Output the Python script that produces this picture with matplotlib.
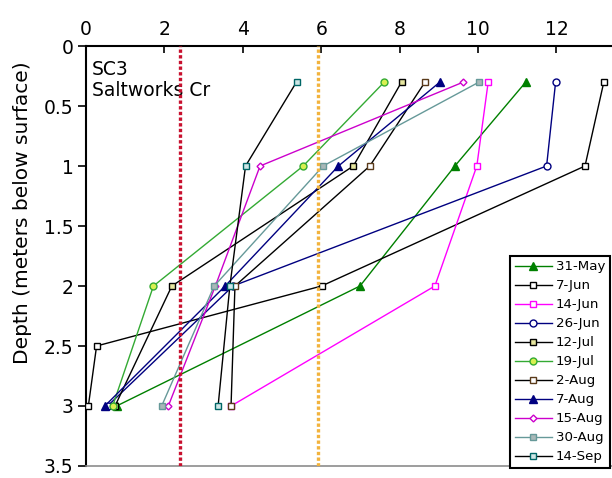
import matplotlib
matplotlib.use("Agg")
import matplotlib.pyplot as plt

plt.rcParams["font.family"] = ["DejaVu Sans"]

# Profiles at SC3 (Saltworks Cr): measured value vs depth below surface
depth_4 = [0.3, 1.0, 2.0, 3.0]
depth_5 = [0.3, 1.0, 2.0, 2.5, 3.0]

may31 = [11.22, 9.41, 6.99, 0.78]
jun07 = [13.21, 12.73, 6.01, 0.27, 0.06]
jun14 = [10.26, 9.97, 8.90, 3.70]
jun26 = [11.98, 11.75, 3.75, 0.55]
jul12 = [8.05, 6.82, 2.19, 0.74]
jul19 = [7.61, 5.54, 1.72, 0.68]
aug02 = [8.65, 7.24, 3.80, 3.70]
aug07 = [9.03, 6.44, 3.55, 0.48]
aug15 = [9.63, 4.44, 3.30, 2.10]
aug30 = [10.03, 6.05, 3.27, 1.93]
sep14 = [5.37, 4.07, 3.67, 3.37]

labels = ["31-May", "7-Jun", "14-Jun", "26-Jun", "12-Jul", "19-Jul",
          "2-Aug", "7-Aug", "15-Aug", "30-Aug", "14-Sep"]

# reference levels drawn as dotted verticals
red_level = 2.39
orange_level = 5.93

x_ticks = [0, 2, 4, 6, 8, 10, 12]
y_ticks = [0, 0.5, 1, 1.5, 2, 2.5, 3, 3.5]
y_tick_labels = ["0", "0.5", "1", "1.5", "2", "2.5", "3", "3.5"]

series = [
    (may31, depth_4, dict(color="#008000", marker="^", mfc="#008000", mec="#008000", ms=5.5)),
    (jun07, depth_5, dict(color="#000000", marker="s", mfc="white", mec="#000000", ms=5)),
    (jun14, depth_4, dict(color="#FF00FF", marker="s", mfc="white", mec="#FF00FF", ms=5)),
    (jun26, depth_4, dict(color="#000080", marker="o", mfc="white", mec="#000080", ms=5)),
    (jul12, depth_4, dict(color="#000000", marker="s", mfc="#E6E6A0", mec="#000000", ms=5)),
    (jul19, depth_4, dict(color="#33AA33", marker="o", mfc="#D8F050", mec="#33AA33", ms=5)),
    (aug02, depth_4, dict(color="#000000", marker="s", mfc="white", mec="#5A3A1A", ms=5)),
    (aug07, depth_4, dict(color="#000080", marker="^", mfc="#000080", mec="#000080", ms=5.5)),
    (aug15, depth_4, dict(color="#CC00CC", marker="D", mfc="white", mec="#CC00CC", ms=3.5)),
    (aug30, depth_4, dict(color="#669999", marker="s", mfc="#A8B8B8", mec="#669999", ms=5)),
    (sep14, depth_4, dict(color="#000000", marker="s", mfc="#CFE6E6", mec="#006666", ms=5)),
]

W, H = 612, 478
fig = plt.figure(figsize=(W / 100, H / 100), dpi=100)
left, right, top, bottom = 86, 612, 46, 466
ax = fig.add_axes([left / W, 1 - bottom / H, (right - left) / W, (bottom - top) / H])

for (vals, dep, st), lab in zip(series, labels):
    ax.plot(vals, dep, lw=1.0, mew=1.0, label=lab, zorder=3, **st)

ax.axvline(red_level, color="#C8102E", lw=2.4, ls=(0, (1, 0.7)), zorder=4)
ax.axvline(orange_level, color="#F2B33D", lw=2.4, ls=(0, (1, 0.7)), zorder=4)

ax.set_xlim(0, (right - left) / 39.2)
ax.set_ylim(3.5, 0)
ax.xaxis.tick_top()
ax.set_xticks(x_ticks)
ax.set_yticks(y_ticks)
ax.set_yticklabels(y_tick_labels)
ax.tick_params(axis="x", direction="in", length=5, width=1.2, pad=5, labelsize=13.5, top=True, bottom=False)
ax.tick_params(axis="y", direction="out", length=6, width=1.2, pad=3, labelsize=13.5)

ax.spines["right"].set_visible(False)
ax.spines["top"].set_linewidth(1.5)
ax.spines["left"].set_linewidth(1.5)
ax.spines["bottom"].set_color("#8C8C8C")
ax.spines["bottom"].set_linewidth(1.2)

ax.set_ylabel("Depth (meters below surface)", fontsize=14.5)
ax.yaxis.set_label_coords(-0.103, 0.602)

ax.text(0.011, 0.967, "SC3\nSaltworks Cr", transform=ax.transAxes, ha="left", va="top",
        fontsize=13.5, linespacing=1.15)

leg = ax.legend(loc="lower right", bbox_to_anchor=(610 / W, 1 - 468 / H), bbox_transform=fig.transFigure,
                fontsize=9.6, labelspacing=0.45, handlelength=2.8, handletextpad=0.3,
                borderpad=0.35, borderaxespad=0, fancybox=False, framealpha=1, edgecolor="black")
leg.get_frame().set_linewidth(1.5)

fig.savefig("out.png", dpi=100)
